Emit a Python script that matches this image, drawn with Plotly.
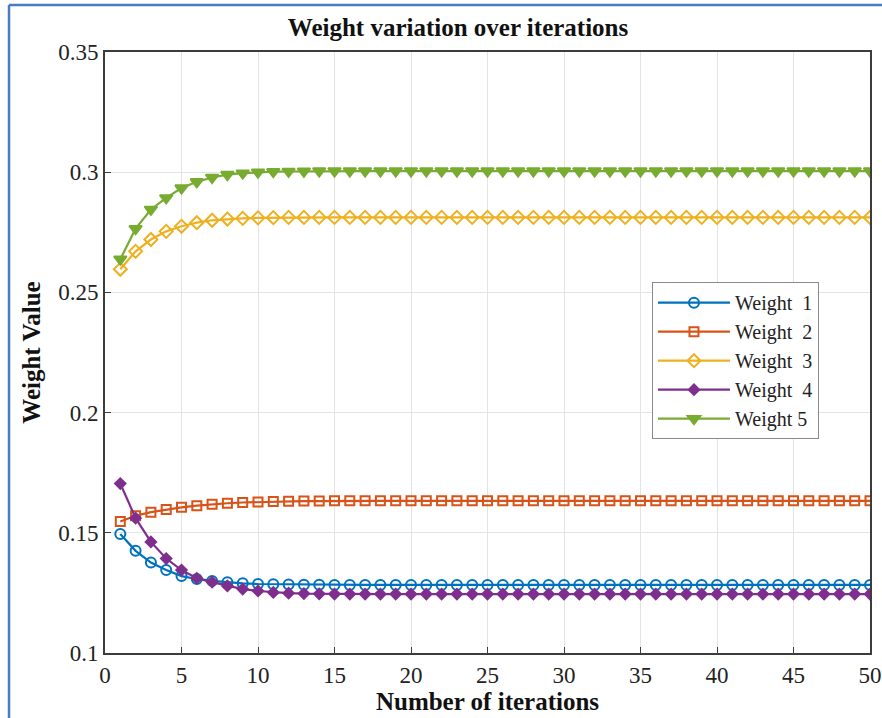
import plotly.graph_objects as go

# Iteration index
iterations = list(range(1, 51))

# Weight trajectories per iteration
weight_1 = [0.1495, 0.1425, 0.1376, 0.1345, 0.1320, 0.1308, 0.1300, 0.1294, 0.1290, 0.1287,
            0.1286, 0.1285, 0.1284, 0.1284, 0.1283, 0.1283, 0.1283, 0.1283, 0.1283, 0.1283,
            0.1283, 0.1283, 0.1283, 0.1283, 0.1283, 0.1283, 0.1283, 0.1283, 0.1283, 0.1283,
            0.1283, 0.1283, 0.1283, 0.1283, 0.1283, 0.1283, 0.1283, 0.1283, 0.1283, 0.1283,
            0.1283, 0.1283, 0.1283, 0.1283, 0.1283, 0.1283, 0.1283, 0.1283, 0.1283, 0.1283]
weight_2 = [0.1547, 0.1571, 0.1586, 0.1597, 0.1606, 0.1613, 0.1619, 0.1623, 0.1626, 0.1628,
            0.1630, 0.1631, 0.1632, 0.1632, 0.1633, 0.1633, 0.1633, 0.1633, 0.1633, 0.1633,
            0.1633, 0.1633, 0.1633, 0.1633, 0.1633, 0.1633, 0.1633, 0.1633, 0.1633, 0.1633,
            0.1633, 0.1633, 0.1633, 0.1633, 0.1633, 0.1633, 0.1633, 0.1633, 0.1633, 0.1633,
            0.1633, 0.1633, 0.1633, 0.1633, 0.1633, 0.1633, 0.1633, 0.1633, 0.1633, 0.1633]
weight_3 = [0.2596, 0.2671, 0.2720, 0.2754, 0.2775, 0.2790, 0.2800, 0.2805, 0.2808, 0.2810,
            0.2811, 0.2812, 0.2812, 0.2812, 0.2812, 0.2812, 0.2812, 0.2812, 0.2812, 0.2812,
            0.2812, 0.2812, 0.2812, 0.2812, 0.2812, 0.2812, 0.2812, 0.2812, 0.2812, 0.2812,
            0.2812, 0.2812, 0.2812, 0.2812, 0.2812, 0.2812, 0.2812, 0.2812, 0.2812, 0.2812,
            0.2812, 0.2812, 0.2812, 0.2812, 0.2812, 0.2812, 0.2812, 0.2812, 0.2812, 0.2812]
weight_4 = [0.1705, 0.1561, 0.1462, 0.1393, 0.1345, 0.1311, 0.1295, 0.1279, 0.1266, 0.1258,
            0.1252, 0.1249, 0.1247, 0.1246, 0.1245, 0.1245, 0.1245, 0.1245, 0.1245, 0.1245,
            0.1245, 0.1245, 0.1245, 0.1245, 0.1245, 0.1245, 0.1245, 0.1245, 0.1245, 0.1245,
            0.1245, 0.1245, 0.1245, 0.1245, 0.1245, 0.1245, 0.1245, 0.1245, 0.1245, 0.1245,
            0.1245, 0.1245, 0.1245, 0.1245, 0.1245, 0.1245, 0.1245, 0.1245, 0.1245, 0.1245]
weight_5 = [0.2638, 0.2765, 0.2845, 0.2893, 0.2934, 0.2960, 0.2978, 0.2990, 0.2996, 0.3000,
            0.3002, 0.3003, 0.3004, 0.3005, 0.3005, 0.3005, 0.3005, 0.3005, 0.3005, 0.3005,
            0.3005, 0.3005, 0.3005, 0.3005, 0.3005, 0.3005, 0.3005, 0.3005, 0.3005, 0.3005,
            0.3005, 0.3005, 0.3005, 0.3005, 0.3005, 0.3005, 0.3005, 0.3005, 0.3005, 0.3005,
            0.3005, 0.3005, 0.3005, 0.3005, 0.3005, 0.3005, 0.3005, 0.3005, 0.3005, 0.3005]

series_names = ["Weight  1", "Weight  2", "Weight  3", "Weight  4", "Weight 5"]
series_values = [weight_1, weight_2, weight_3, weight_4, weight_5]
series_colors = ["#0072BD", "#D95319", "#EDB120", "#7E2F8E", "#77AC30"]
series_symbols = ["circle-open", "square-open", "diamond-open", "diamond", "triangle-down"]
series_sizes = [10, 9, 10, 8, 11]

x_ticks = [0, 5, 10, 15, 20, 25, 30, 35, 40, 45, 50]
y_ticks = [0.1, 0.15, 0.2, 0.25, 0.3, 0.35]
y_tick_labels = ["0.1", "0.15", "0.2", "0.25", "0.3", "0.35"]

FONT = "Liberation Serif, Times New Roman, serif"
AXIS_COLOR = "#3c3c3c"

fig = go.Figure()
for name, vals, col, sym, sz in zip(series_names, series_values, series_colors,
                                     series_symbols, series_sizes):
    fig.add_trace(go.Scatter(
        x=iterations, y=vals, name=name, mode="lines+markers",
        line=dict(color=col, width=2.2),
        marker=dict(symbol=sym, size=sz, color=col,
                    line=dict(color=col, width=2)),
    ))

fig.update_layout(
    width=882, height=718,
    margin=dict(l=105, r=12, t=52, b=65, autoexpand=False),
    paper_bgcolor="white", plot_bgcolor="white",
    font=dict(family=FONT, color="#222222"),
    title=dict(text="<b>Weight variation over iterations</b>",
               x=458 / 882, xanchor="center", y=1 - 27 / 718, yanchor="middle",
               font=dict(size=25, family=FONT, color="#111111")),
    xaxis=dict(range=[0, 50], tickvals=x_ticks, ticks="inside", ticklen=6,
               tickcolor=AXIS_COLOR, showgrid=True, gridcolor="#e3e3e3", gridwidth=1,
               showline=True, linecolor=AXIS_COLOR, linewidth=2, mirror=True,
               zeroline=False, automargin=False,
               tickfont=dict(size=23, family=FONT, color="#222222"),
               title=dict(text="<b>Number of iterations</b>", standoff=4,
                          font=dict(size=25, family=FONT, color="#111111"))),
    yaxis=dict(range=[0.1, 0.35], tickvals=y_ticks, ticktext=y_tick_labels,
               ticks="inside", ticklen=6, tickcolor=AXIS_COLOR,
               showgrid=True, gridcolor="#e3e3e3", gridwidth=1,
               showline=True, linecolor=AXIS_COLOR, linewidth=2, mirror=True,
               zeroline=False, automargin=False,
               tickfont=dict(size=23, family=FONT, color="#222222"),
               title=dict(text="<b>Weight Value</b>", standoff=10,
                          font=dict(size=25, family=FONT, color="#111111"))),
    legend=dict(x=0.715, y=0.617, xanchor="left", yanchor="top",
                bgcolor="white", bordercolor="#8a8a8a", borderwidth=1,
                font=dict(size=20, family=FONT, color="#222222"),
                tracegroupgap=0, itemwidth=72),
    showlegend=True,
)

# Thin blue frame along the top and left edges of the page
fig.add_shape(type="line", xref="paper", yref="paper",
              x0=(9 - 105) / 765, x1=(882 - 105) / 765,
              y0=(653 - 5) / 601, y1=(653 - 5) / 601,
              line=dict(color="#4a7cc4", width=2.5))
fig.add_shape(type="line", xref="paper", yref="paper",
              x0=(9 - 105) / 765, x1=(9 - 105) / 765,
              y0=(653 - 5) / 601, y1=(653 - 718) / 601,
              line=dict(color="#4a7cc4", width=2.5))

fig.write_html("out.html")
